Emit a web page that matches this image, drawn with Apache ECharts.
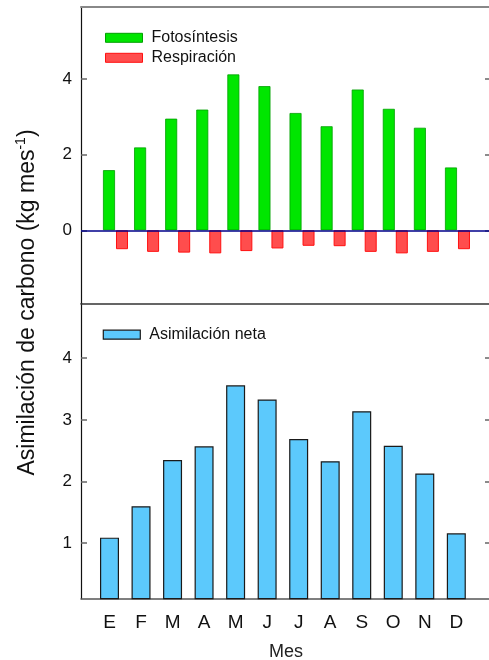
<!DOCTYPE html>
<html><head><meta charset="utf-8">
<script src="https://cdn.jsdelivr.net/npm/echarts@6/dist/echarts.min.js"></script>
<style>html,body{margin:0;padding:0;background:#fff}#c{width:489px;height:660px}</style>
</head><body><div id="c"></div>
<script>
const months = ['E','F','M','A','M','J','J','A','S','O','N','D'];
const fotosintesis = [1.59,2.19,2.95,3.19,4.12,3.81,3.10,2.75,3.72,3.21,2.71,1.66];
const respiracion = [-0.50,-0.57,-0.59,-0.61,-0.55,-0.48,-0.41,-0.42,-0.57,-0.61,-0.57,-0.50];
const neta = [1.09,1.60,2.35,2.57,3.56,3.33,2.69,2.33,3.14,2.58,2.13,1.16];
const topTicks = [0,2,4];
const bottomTicks = [1,2,3,4];
const monthPos = months.map((m,i)=>i+1);

const FONT = '"Liberation Sans", Arial, sans-serif';
const RED_SHIFT = 0.418;

const chart = echarts.init(document.getElementById('c'), null, {renderer:'canvas'});
const gridL = 81, gridW = 410;
const yAxisCommon = (ticks, isLeft) => ({
  type:'value', position: isLeft?'left':'right',
  axisLine:{show:isLeft, lineStyle:{color:'#111', width:1.2}},
  axisTick:{show:true, inside:true, length:6, customValues:ticks, lineStyle:{color:'#666', width:1.5}},
  axisLabel:{show:isLeft, customValues:ticks, margin:9, fontSize:17, color:'#111', fontFamily:FONT},
  splitLine:{show:false}
});
const option = {
  animation:false,
  backgroundColor:'#fff',
  grid:[
    {left:gridL, width:gridW, top:6.7, height:296.6, containLabel:false, outerBoundsMode:'none'},
    {left:gridL, width:gridW, top:303.3, height:295.4, containLabel:false, outerBoundsMode:'none'}
  ],
  xAxis:[
    {gridIndex:0, type:'value', min:0.0994, max:13.287, position:'bottom',
     axisLine:{show:true, onZero:false, lineStyle:{color:'#333', width:1.5}},
     axisTick:{show:false}, axisLabel:{show:false}, splitLine:{show:false}},
    {gridIndex:0, type:'value', min:0.0994, max:13.287, show:false},
    {gridIndex:0, type:'value', min:0.0994, max:13.287, position:'top',
     axisLine:{show:true, onZero:false, lineStyle:{color:'#888', width:2}},
     axisTick:{show:false}, axisLabel:{show:false}, splitLine:{show:false}},
    {gridIndex:1, type:'value', min:0.0961, max:13.10, position:'bottom',
     axisLine:{show:true, onZero:false, lineStyle:{color:'#555', width:1.5}},
     axisTick:{show:false},
     axisLabel:{show:true, customValues:monthPos, formatter:(v)=>months[Math.round(v)-1]||'',
       fontSize:19, color:'#111', margin:15, fontFamily:FONT},
     splitLine:{show:false},
     name:'Mes', nameLocation:'middle', nameGap:44,
     nameTextStyle:{fontSize:18, color:'#222', fontFamily:FONT}}
  ],
  yAxis:[
    Object.assign({gridIndex:0, min:-1.93, max:5.91}, yAxisCommon(topTicks,true)),
    Object.assign({gridIndex:0, min:-1.93, max:5.91}, yAxisCommon(topTicks,false)),
    Object.assign({gridIndex:1, min:0.1, max:4.89}, yAxisCommon(bottomTicks,true)),
    Object.assign({gridIndex:1, min:0.1, max:4.89}, yAxisCommon(bottomTicks,false))
  ],
  legend:[
    {orient:'vertical', left:100, top:24.8, itemWidth:37, itemHeight:9, itemGap:4,
     textStyle:{fontSize:16, lineHeight:16, color:'#111', fontFamily:FONT, padding:[0,0,0,4]},
     data:[
       {name:'Fotosíntesis', icon:'rect', itemStyle:{color:'#00E600', borderColor:'#00A000', borderWidth:1}},
       {name:'Respiración', icon:'rect', itemStyle:{color:'#FF4D4D', borderColor:'#FF1010', borderWidth:1}}
     ]},
    {orient:'vertical', left:97.7, top:321.7, itemWidth:37, itemHeight:9,
     textStyle:{fontSize:16, lineHeight:16, color:'#111', fontFamily:FONT, padding:[0,0,0,4]},
     data:[{name:'Asimilación neta', icon:'rect', itemStyle:{color:'#5CC9FC', borderColor:'#1A1A1A', borderWidth:1.2}}]}
  ],
  graphic:[{
    type:'text', x:27.5, y:302.5, rotation:Math.PI/2,
    style:{
      text:'{m|Asimilación de carbono (kg mes}{s|-1}{m|)}',
      align:'center', verticalAlign:'middle',
      rich:{
        m:{fontSize:23, fontFamily:FONT, fill:'#111', lineHeight:26},
        s:{fontSize:14, fontFamily:FONT, fill:'#111', verticalAlign:'top', lineHeight:26}
      }
    }
  }],
  series:[
    {name:'Fotosíntesis', type:'bar', xAxisIndex:0, yAxisIndex:0, barWidth:12,
     data:fotosintesis.map((v,i)=>[monthPos[i], v]),
     itemStyle:{color:'#00E600', borderColor:'#00A000', borderWidth:0.8},
     markLine:{silent:true, symbol:['none','none'], label:{show:false},
       lineStyle:{color:'#00008B', width:1.5, type:'solid'}, data:[{yAxis:0}]}},
    {name:'Respiración', type:'bar', xAxisIndex:1, yAxisIndex:0, barWidth:12,
     data:respiracion.map((v,i)=>[monthPos[i]+RED_SHIFT, v]),
     itemStyle:{color:'#FF4D4D', borderColor:'#FF1010', borderWidth:1}},
    {name:'Asimilación neta', type:'bar', xAxisIndex:3, yAxisIndex:2, barWidth:19,
     data:neta.map((v,i)=>[monthPos[i], v]), clip:true,
     itemStyle:{color:'#5CC9FC', borderColor:'#1A1A1A', borderWidth:1.2}}
  ]
};
chart.setOption(option);
</script></body></html>
